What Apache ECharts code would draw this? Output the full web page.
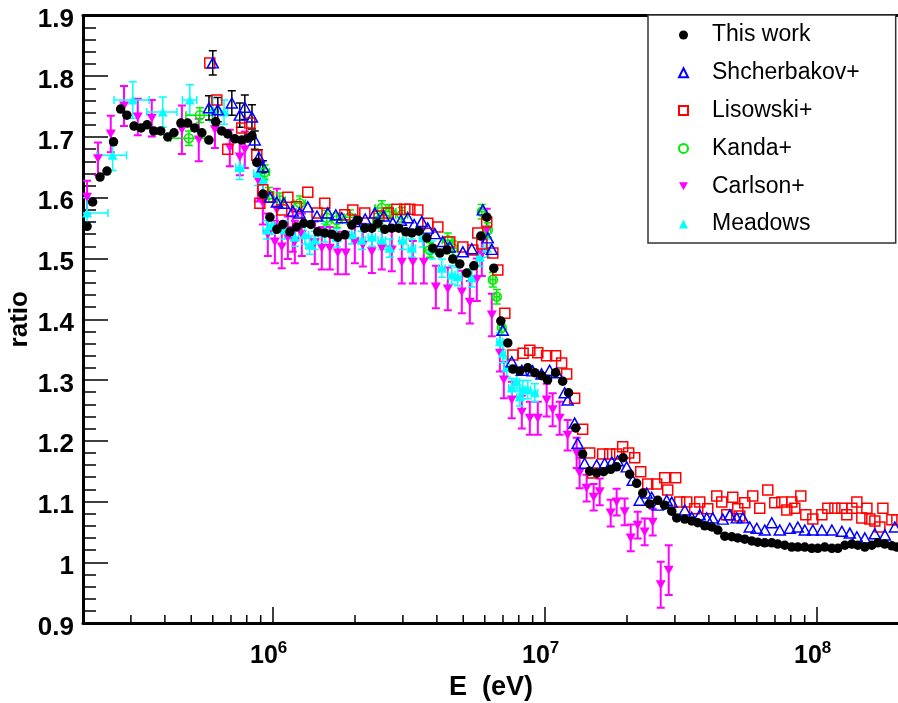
<!DOCTYPE html>
<html>
<head>
<meta charset="utf-8">
<script src="https://cdn.jsdelivr.net/npm/echarts@6/dist/echarts.min.js"></script>
<style>
  html, body { margin: 0; padding: 0; background: #fff; }
  #chart { width: 898px; height: 703px; }
</style>
</head>
<body>
<div id="chart"></div>
<script>
// Energies are listed in MeV and converted to eV for the axis.
const MeV = 1e6;

// This work
const thisWorkE = [0.207,0.217,0.231,0.245,0.259,0.275,0.290,0.308,0.327,0.344,
  0.364,0.386,0.410,0.432,0.458,0.485,0.515,0.547,0.581,0.615,
  0.647,0.681,0.723,0.767,0.807,0.836,0.871,0.917,0.973,1.032,
  1.086,1.152,1.222,1.297,1.376,1.459,1.549,1.643,1.729,1.835,
  1.946,2.048,2.173,2.306,2.426,2.574,2.731,2.898,3.075,3.236,
  3.433,3.673,3.866,4.102,4.352,4.578,4.856,5.154,5.468,5.802,
  6.104,6.476,6.871,7.290,7.610,8.074,8.635,9.163,9.723,10.21,
  10.93,11.60,12.20,12.95,13.74,14.58,15.47,16.41,17.42,18.32,
  19.36,20.46,21.71,22.85,24.24,25.94,27.53,29.21,30.47,32.61,
  34.59,36.40,38.63,41.00,43.14,45.77,48.56,51.09,54.20,57.51,
  60.50,64.20,68.11,71.67,76.05,80.70,84.93,90.09,95.61,100.6,
  106.7,113.3,119.2,126.5,134.2,141.2,149.8,158.9,167.2,177.5,
  188.3,196.4];
const thisWorkR = [1.553,1.593,1.634,1.644,1.692,1.746,1.736,1.718,1.715,1.720,
  1.710,1.710,1.700,1.707,1.723,1.723,1.715,1.707,1.695,1.725,
  1.710,1.705,1.697,1.695,1.698,1.702,1.658,1.606,1.568,1.548,
  1.556,1.544,1.552,1.558,1.556,1.544,1.542,1.540,1.535,1.539,
  1.555,1.563,1.550,1.550,1.558,1.548,1.550,1.550,1.544,1.542,
  1.545,1.534,1.517,1.509,1.514,1.499,1.491,1.476,1.488,1.537,
  1.568,1.484,1.397,1.361,1.318,1.315,1.320,1.312,1.307,1.300,
  1.312,1.298,1.279,1.221,1.178,1.150,1.147,1.149,1.153,1.157,
  1.172,1.145,1.130,1.114,1.096,1.102,1.094,1.084,1.073,1.071,
  1.068,1.065,1.060,1.058,1.053,1.043,1.042,1.040,1.038,1.035,
  1.033,1.032,1.032,1.030,1.028,1.025,1.025,1.025,1.023,1.023,
  1.025,1.023,1.023,1.028,1.030,1.028,1.025,1.028,1.032,1.030,
  1.027,1.025];

// Shcherbakov+
const shcherbakovE = [0.581,0.600,0.626,0.705,0.754,0.787,0.836,0.856,0.886,0.917,
  0.973,1.032,1.095,1.181,1.25,1.341,1.45,1.589,1.70,1.789,
  1.997,2.18,2.365,2.55,2.755,2.95,3.128,3.30,3.522,3.70,
  3.932,4.207,4.463,4.983,5.377,5.902,6.157,6.368,6.99,7.54,
  8.21,9.0,9.7,10.39,11.02,11.80,12.10,12.84,13.17,13.97,
  15.47,16.55,17.57,18.48,19.95,20.99,22.27,23.63,24.65,25.94,
  27.99,29.21,32.61,34.59,37.02,39.28,41.33,44.98,47.74,50.66,
  53.31,56.54,60.00,64.20,68.11,72.90,79.35,84.93,90.09,96.43,
  104.1,113.3,123.3,131.9,140.0,149.8,163.0,177.5,193.1];
const shcherbakovR = [1.748,1.822,1.745,1.756,1.736,1.749,1.733,1.695,1.667,1.651,
  1.601,1.593,1.591,1.578,1.575,1.585,1.570,1.575,1.572,1.567,
  1.561,1.565,1.575,1.570,1.559,1.563,1.567,1.556,1.561,1.550,
  1.541,1.528,1.519,1.511,1.516,1.580,1.534,1.515,1.382,1.330,
  1.316,1.315,1.310,1.316,1.312,1.279,1.267,1.229,1.196,1.163,
  1.160,1.163,1.165,1.167,1.157,1.135,1.102,1.114,1.107,1.094,
  1.102,1.099,1.086,1.074,1.078,1.073,1.073,1.071,1.078,1.073,
  1.073,1.058,1.056,1.053,1.065,1.053,1.056,1.058,1.053,1.053,
  1.053,1.053,1.051,1.048,1.042,1.040,1.047,1.045,1.058];
const shcherbakovErr = [0.02,0.02,0.02,0.02,0.02,0.02,0.02,0.015,0.012,0.01];

// Lisowski+
const lisowskiE = [0.585,0.621,0.681,0.767,0.821,0.871,0.894,0.917,0.956,1.076,
  1.133,1.22,1.341,1.45,1.549,1.835,1.963,2.173,2.45,2.65,
  2.850,3.050,3.182,3.404,3.705,4.033,4.463,4.983,5.423,5.656,
  5.852,6.10,6.424,6.701,7.11,7.61,8.30,8.785,9.40,10.13,
  10.93,11.50,12.00,12.84,13.74,14.58,14.96,16.28,17.27,18.32,
  19.28,20.29,21.35,22.46,23.84,25.72,27.53,28.23,30.21,31.24,
  33.17,35.48,37.02,39.62,42.76,44.61,46.54,48.96,51.09,51.96,
  54.20,58.0,61.53,65.86,69.88,74.16,77.36,80.70,82.79,87.10,
  90.87,96.43,104.1,109.5,116.2,123.3,128.6,134.2,140.0,146.0,
  152.4,156.3,163.0,170.1,174.5,188.3,196.4];
const lisowskiR = [1.822,1.761,1.680,1.715,1.723,1.670,1.591,1.613,1.601,1.580,
  1.601,1.585,1.609,1.575,1.591,1.572,1.580,1.575,1.570,1.575,
  1.581,1.581,1.581,1.580,1.558,1.552,1.527,1.519,1.514,1.542,
  1.524,1.560,1.509,1.481,1.410,1.341,1.344,1.349,1.345,1.340,
  1.340,1.328,1.310,1.270,1.219,1.180,1.147,1.178,1.178,1.178,
  1.190,1.180,1.172,1.149,1.129,1.129,1.139,1.119,1.139,1.099,
  1.099,1.088,1.099,1.088,1.109,1.099,1.078,1.107,1.088,1.076,
  1.098,1.109,1.089,1.119,1.098,1.099,1.086,1.099,1.089,1.109,
  1.078,1.071,1.078,1.089,1.089,1.089,1.078,1.089,1.099,1.073,
  1.089,1.071,1.068,1.058,1.089,1.070,1.070];

// Kanda+ (energy half-widths in MeV)
const kandaE = [0.490,0.538,0.930,0.965,1.058,1.254,1.575,1.714,1.914,2.426,
  2.510,2.686,2.973,3.768,4.388,4.578,5.852,6.157,6.424,6.643,6.931];
const kandaR = [1.698,1.736,1.642,1.605,1.596,1.591,1.567,1.563,1.568,1.562,
  1.583,1.577,1.572,1.514,1.530,1.517,1.577,1.547,1.465,1.437,1.386];
const kandaDE = [0.07,0.06,0.04,0.04,0.05,0.06,0.07,0.08,0.09,0.1,
  0.14,0.14,0.15,0.18,0.2,0.2,0.15,0.15,0.15,0.15,0.15];
const kandaErr = [0.012,0.012,0.012,0.012,0.012,0.012,0.012,0.012,0.012,0.012,
  0.012,0.012,0.012,0.012,0.012,0.012,0.012,0.012,0.012,0.012,0.012];

// Carlson+
const carlsonE = [0.207,0.227,0.253,0.283,0.318,0.358,0.462,0.533,0.611,0.693,
  0.754,0.787,0.879,0.917,0.956,1.015,1.032,1.076,1.133,1.181,
  1.202,1.275,1.423,1.510,1.616,1.729,1.851,1.997,2.137,2.306,
  2.510,2.731,2.973,3.264,3.581,3.965,4.388,4.941,5.287,5.609,
  5.852,6.10,6.368,6.82,7.05,7.54,8.21,8.785,9.40,10.13,
  10.66,11.31,12.10,13.06,13.39,14.21,15.08,15.87,17.42,18.32,
  19.61,20.64,21.89,23.23,24.86,26.61,28.47];
const carlsonR = [1.601,1.664,1.705,1.751,1.733,1.731,1.712,1.695,1.712,1.682,
  1.667,1.679,1.629,1.591,1.539,1.527,1.580,1.519,1.534,1.546,
  1.527,1.539,1.526,1.517,1.517,1.509,1.509,1.527,1.522,1.511,
  1.517,1.514,1.494,1.494,1.494,1.453,1.450,1.445,1.428,1.465,
  1.506,1.547,1.407,1.344,1.300,1.267,1.247,1.237,1.237,1.267,
  1.251,1.237,1.209,1.180,1.147,1.122,1.107,1.116,1.081,1.099,
  1.083,1.040,1.061,1.050,1.066,0.963,0.987];
const carlsonErr = [0.027,0.027,0.03,0.033,0.03,0.03,0.04,0.035,0.03,0.03,
  0.03,0.03,0.035,0.035,0.035,0.035,0.035,0.035,0.035,0.035,
  0.035,0.035,0.035,0.035,0.035,0.035,0.035,0.035,0.035,0.035,
  0.035,0.035,0.035,0.035,0.035,0.035,0.035,0.035,0.035,0.035,
  0.035,0.035,0.035,0.03,0.03,0.03,0.027,0.027,0.027,0.027,
  0.027,0.027,0.025,0.025,0.025,0.022,0.022,0.022,0.022,0.022,
  0.022,0.022,0.022,0.022,0.022,0.038,0.041];

// Meadows (energy half-widths in MeV)
const meadowsE = [0.207,0.257,0.305,0.393,0.494,0.600,0.660,0.754,0.879,0.917,
  0.948,0.989,1.104,1.202,1.308,1.364,1.423,1.549,1.714,1.946,
  2.119,2.306,2.510,2.686,2.998,3.236,3.551,3.832,4.171,4.539,
  4.775,5.377,5.754,6.104,6.816,6.99,7.23,7.54,7.87,8.07,
  8.28,8.635,9.163];
const meadowsR = [1.575,1.670,1.761,1.741,1.761,1.745,1.741,1.650,1.640,1.629,
  1.547,1.555,1.547,1.535,1.539,1.522,1.530,1.542,1.534,1.539,
  1.530,1.535,1.530,1.517,1.530,1.517,1.534,1.514,1.484,1.473,
  1.470,1.468,1.502,1.517,1.363,1.344,1.320,1.287,1.297,1.272,
  1.284,1.284,1.279];
const meadowsDE = [0.04,0.032,0.045,0.05,0.03,0.02,0.02,0.025,0.03,0.03,
  0.03,0.03,0.035,0.04,0.04,0.045,0.045,0.05,0.055,0.06,
  0.065,0.07,0.08,0.08,0.09,0.1,0.1,0.11,0.12,0.13,
  0.14,0.15,0.15,0.16,0.17,0.17,0.18,0.19,0.19,0.2,
  0.2,0.21,0.22];
const meadowsErr = [0.025,0.025,0.03,0.025,0.025,0.02,0.02,0.02,0.02,0.02,
  0.015,0.015,0.015,0.015,0.015,0.015,0.015,0.015,0.015,0.015,
  0.015,0.015,0.015,0.015,0.015,0.015,0.015,0.015,0.015,0.015,
  0.015,0.015,0.015,0.015,0.015,0.015,0.015,0.015,0.015,0.015,
  0.015,0.015,0.015];

// Axis settings
const xMin = 2e5, xMax = 2e8;
const yMin = 0.9, yMax = 1.9, yStep = 0.1;
const FONT = 'Liberation Sans, Arial, Helvetica, sans-serif';

const seriesNames = ['This work', 'Shcherbakov+', 'Lisowski+', 'Kanda+', 'Carlson+', 'Meadows'];

function points(E, R) {
  return E.map((e, i) => [e * MeV, R[i]]);
}
function errorPoints(E, R, dy, dE) {
  return E.map((e, i) => {
    const ey = dy && dy[i] ? dy[i] : 0;
    const ex = dE && dE[i] ? dE[i] : 0;
    return [e * MeV, R[i], ey, (e - ex) * MeV, (e + ex) * MeV];
  });
}

// Error bars with short end caps, drawn through the axis scales.
function errorBarSeries(id, data, color, width) {
  return {
    type: 'custom',
    id: id,
    name: id,
    data: data,
    clip: true,
    silent: true,
    z: 2,
    encode: { x: 0, y: 1 },
    renderItem: function (params, api) {
      const e = api.value(0), r = api.value(1), dy = api.value(2), lo = api.value(3), hi = api.value(4);
      const style = { stroke: color, lineWidth: width, fill: null };
      const cap = 4;
      const children = [];
      if (dy > 0) {
        const a = api.coord([e, r - dy]), b = api.coord([e, r + dy]);
        children.push({ type: 'line', shape: { x1: a[0], y1: a[1], x2: b[0], y2: b[1] }, style: style });
        children.push({ type: 'line', shape: { x1: a[0] - cap, y1: a[1], x2: a[0] + cap, y2: a[1] }, style: style });
        children.push({ type: 'line', shape: { x1: b[0] - cap, y1: b[1], x2: b[0] + cap, y2: b[1] }, style: style });
      }
      if (hi > lo) {
        const a = api.coord([lo, r]), b = api.coord([hi, r]);
        children.push({ type: 'line', shape: { x1: a[0], y1: a[1], x2: b[0], y2: b[1] }, style: style });
        children.push({ type: 'line', shape: { x1: a[0], y1: a[1] - cap, x2: a[0], y2: a[1] + cap }, style: style });
        children.push({ type: 'line', shape: { x1: b[0], y1: b[1] - cap, x2: b[0], y2: b[1] + cap }, style: style });
      }
      return { type: 'group', children: children };
    }
  };
}

// Minor ticks of the logarithmic energy axis (2..9 within each decade)
const minorTickE = [];
for (let d = 1e5; d < 1e9; d *= 10) {
  for (let m = 2; m <= 9; m++) {
    const v = m * d;
    if (v > xMin * 1.001 && v < xMax * 0.999) minorTickE.push(v);
  }
}

const downTriangle = 'path://M0,0L10,0L5,9Z';

const option = {
  animation: false,
  backgroundColor: '#fff',
  grid: { left: 83, top: 15.5, width: 816, height: 607.5, containLabel: false, outerBoundsMode: 'none' },
  legend: {
    data: seriesNames,
    orient: 'vertical',
    left: 648,
    top: 15,
    padding: [8, 36, 7, 30],
    itemGap: 13.8,
    itemWidth: 9,
    itemHeight: 9,
    backgroundColor: '#fff',
    borderColor: '#333',
    borderWidth: 1.5,
    borderRadius: 0,
    textStyle: { fontFamily: FONT, fontSize: 23, color: '#000', lineHeight: 24, padding: [0, 0, 0, 19] }
  },
  xAxis: [
    {
      type: 'log',
      logBase: 10,
      min: xMin,
      max: xMax,
      position: 'bottom',
      name: 'E  (eV)',
      nameLocation: 'middle',
      nameGap: 51,
      nameTextStyle: { fontFamily: FONT, fontSize: 27, fontWeight: 'bold', color: '#000' },
      axisLine: { onZero: false, lineStyle: { color: '#000', width: 3 } },
      axisTick: { inside: true, length: 16, lineStyle: { color: '#000', width: 1.5 } },
      axisLabel: {
        showMinLabel: false,
        showMaxLabel: false,
        margin: 13,
        padding: [0, 9, 0, 0],
        formatter: function (v) {
          const p = Math.round(Math.log10(v));
          return '{b|10}{s|' + p + '}';
        },
        rich: {
          b: { fontFamily: FONT, fontSize: 25, fontWeight: 'bold', color: '#000', lineHeight: 40 },
          s: { fontFamily: FONT, fontSize: 17, fontWeight: 'bold', color: '#000', padding: [0, 0, 16, 0] }
        }
      },
      splitLine: { show: false }
    },
    {
      type: 'log',
      logBase: 10,
      min: xMin,
      max: xMax,
      position: 'top',
      axisLine: { onZero: false, lineStyle: { color: '#000', width: 3 } },
      axisTick: { show: false },
      axisLabel: { show: false },
      splitLine: { show: false }
    }
  ],
  yAxis: {
    type: 'value',
    min: yMin,
    max: yMax,
    interval: yStep,
    name: 'ratio',
    nameLocation: 'middle',
    nameRotate: 90,
    nameGap: 50,
    nameMoveOverlap: false,
    nameTextStyle: { fontFamily: FONT, fontSize: 26, fontWeight: 'bold', color: '#000' },
    axisLine: { show: true, onZero: false, lineStyle: { color: '#000', width: 3 } },
    axisTick: { show: true, inside: true, length: 25, lineStyle: { color: '#000', width: 1.5 } },
    minorTick: { show: true, splitNumber: 5, length: 13, lineStyle: { color: '#000', width: 1.5 } },
    axisLabel: {
      margin: 9,
      formatter: function (v) { return '{t|' + v + '}'; },
      rich: {
        t: { fontFamily: FONT, fontSize: 26, fontWeight: 'bold', color: '#000', padding: [9, 0, 0, 0] }
      }
    },
    splitLine: { show: false },
    minorSplitLine: { show: false }
  },
  series: [
    errorBarSeries('carlsonErr', errorPoints(carlsonE, carlsonR, carlsonErr, null), '#ff00ff', 2),
    errorBarSeries('meadowsErr', errorPoints(meadowsE, meadowsR, meadowsErr, meadowsDE), '#00ffff', 1.5),
    errorBarSeries('kandaErr', errorPoints(kandaE, kandaR, kandaErr, kandaDE), '#00ee00', 1.5),
    errorBarSeries('shcherbakovErr', errorPoints(shcherbakovE.slice(0, shcherbakovErr.length), shcherbakovR, shcherbakovErr, null), '#000', 1.5),
    {
      type: 'scatter', name: 'Carlson+', data: points(carlsonE, carlsonR), z: 3,
      symbol: downTriangle, symbolSize: [10, 9],
      itemStyle: { color: '#ff00ff', opacity: 1 }
    },
    {
      type: 'scatter', name: 'Meadows', data: points(meadowsE, meadowsR), z: 3,
      symbol: 'triangle', symbolSize: [10, 9],
      itemStyle: { color: '#00ffff', opacity: 1 }
    },
    {
      type: 'scatter', name: 'Kanda+', data: points(kandaE, kandaR), z: 3,
      symbol: 'circle', symbolSize: 9,
      itemStyle: { color: 'rgba(0,0,0,0)', borderColor: '#00ee00', borderWidth: 1.5, opacity: 1 }
    },
    {
      type: 'scatter', name: 'Lisowski+', data: points(lisowskiE, lisowskiR), z: 3,
      symbol: 'rect', symbolSize: 10,
      itemStyle: { color: 'rgba(0,0,0,0)', borderColor: '#ff0000', borderWidth: 1.5, opacity: 1 }
    },
    {
      type: 'scatter', name: 'Shcherbakov+', data: points(shcherbakovE, shcherbakovR), z: 3,
      symbol: 'triangle', symbolSize: [11, 10],
      itemStyle: { color: 'rgba(0,0,0,0)', borderColor: '#0000ff', borderWidth: 1.5, opacity: 1 }
    },
    {
      type: 'scatter', name: 'This work', data: points(thisWorkE, thisWorkR), z: 4,
      symbol: 'circle', symbolSize: 9.5,
      itemStyle: { color: '#000', opacity: 1 }
    },
    {
      type: 'custom',
      id: 'minorTicks',
      name: 'minorTicks',
      silent: true,
      clip: false,
      z: 5,
      data: minorTickE.map(v => [v, yMin]),
      encode: { x: 0, y: 1 },
      renderItem: function (params, api) {
        const p = api.coord([api.value(0), api.value(1)]);
        return {
          type: 'line',
          shape: { x1: p[0], y1: p[1], x2: p[0], y2: p[1] - 8 },
          style: { stroke: '#000', lineWidth: 1.5 }
        };
      }
    }
  ]
};

const chart = echarts.init(document.getElementById('chart'), null, { renderer: 'canvas' });
chart.setOption(option);
</script>
</body>
</html>
